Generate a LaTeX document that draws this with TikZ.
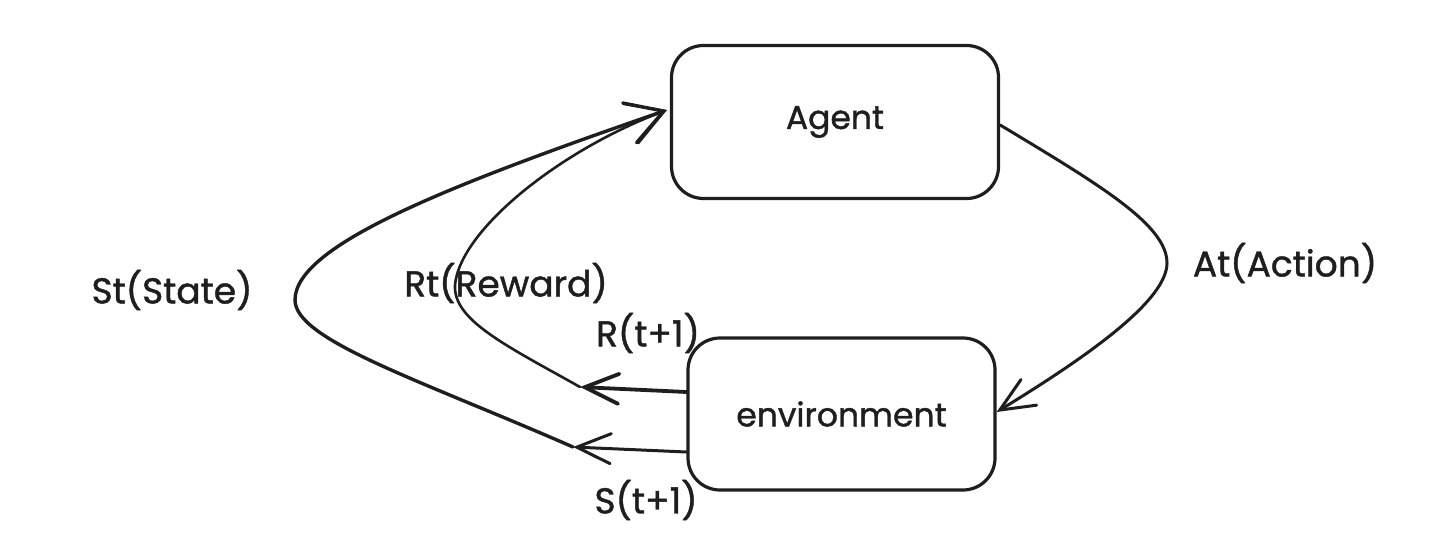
\documentclass[tikz,border=0pt]{standalone}
\usepackage{fontspec}
\setmainfont{Poppins}[FakeBold=1.2]
\usetikzlibrary{arrows.meta}
\definecolor{ink}{HTML}{1E1E1E}
\tikzset{
  box/.style={draw=ink, line width=3.2pt, rounded corners=32pt, fill=white, font=\fontsize{33}{38}\selectfont, text=ink},
  lbl/.style={font=\fontsize{36}{40}\selectfont, text=ink, inner sep=0pt},
  conn/.style={draw=ink, line width=3pt, line cap=round, line join=round},
  tipA/.style={-{Straight Barb[length=34pt,width=30pt,line cap=round]}},
  tipB/.style={-{Straight Barb[length=36pt,width=42pt,line cap=round]}},
}
\begin{document}
\begin{tikzpicture}[x=1pt,y=-1pt]
\useasboundingbox (0,0) rectangle (1442,548);
\node[box, minimum width=327pt, minimum height=153pt] (agent) at (835,122) {Agent};
\node[box, minimum width=307pt, minimum height=152pt] (env) at (841.5,414) {environment};

\node[lbl] (st) at (172,290) {St(State)};
\node[lbl] (rt) at (506,283) {Rt(Reward)};
\node[lbl] (rt1) at (648,333) {R(t+1)};
\node[lbl] (st1) at (646,500) {S(t+1)};
\node[lbl] (at) at (1285,263) {At(Action)};

\coordinate (rtip) at (580,387);
\coordinate (stip) at (573,447);

% Action
\draw[conn, tipA] ([yshift=-3pt]agent.east) .. controls (1100,185) and (1167,225) .. (1167,263)
  .. controls (1167,300) and (1090,355) .. ([yshift=2pt]env.east);

% environment -> left
\draw[conn, tipA, line width=3.8pt] ([yshift=22pt]env.west) -- (rtip);
\draw[conn, tipA] ([yshift=-38pt]env.west) -- (stip);

% curves back to agent
\draw[conn, tipB, line width=3.4pt] (stip) .. controls (420,380) and (295,340) .. (295,300)
  .. controls (295,245) and (450,185) .. ([yshift=12pt,xshift=-3pt]agent.west);
\draw[conn, tipB, line width=2.6pt] (rtip) .. controls (505,345) and (453,320) .. (455,285)
  .. controls (460,230) and (560,150) .. ([yshift=12pt,xshift=-3pt]agent.west);
\end{tikzpicture}
\end{document}
